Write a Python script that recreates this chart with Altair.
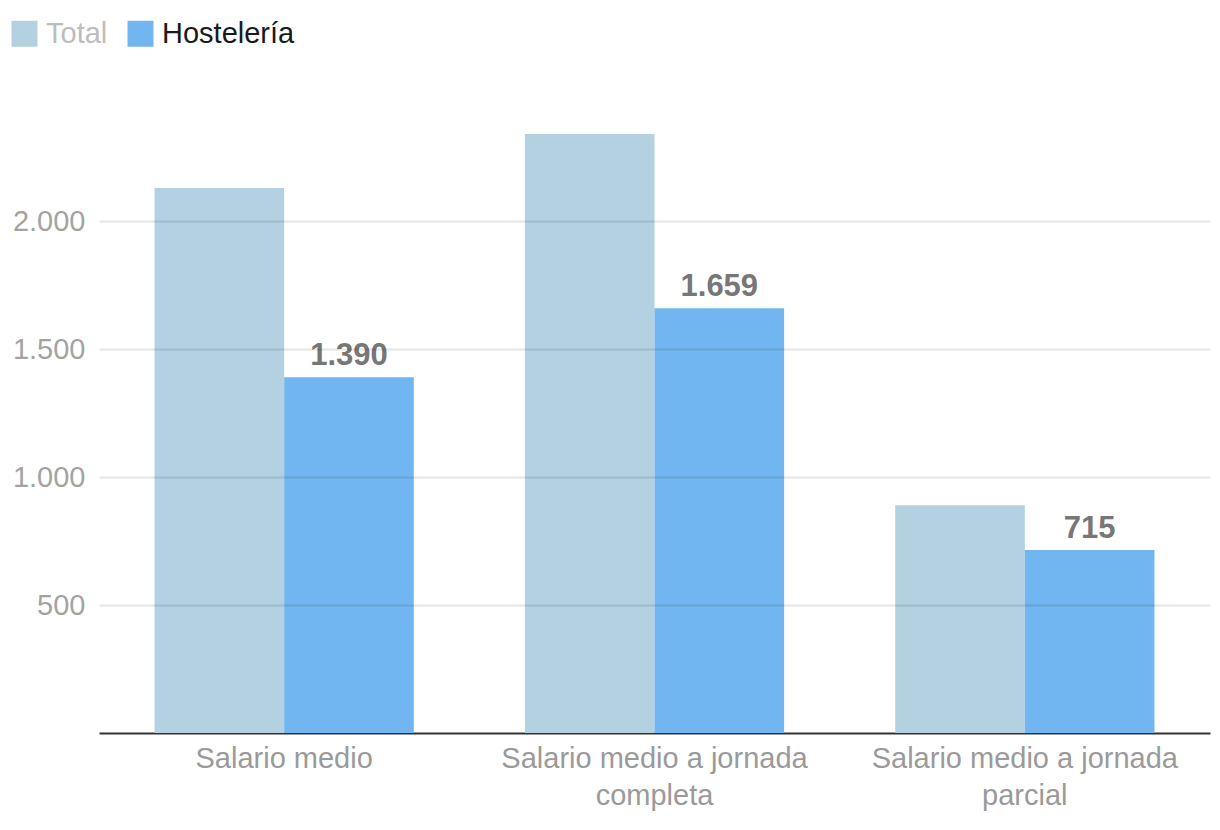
import altair as alt
import pandas as pd

categories = ["Salario medio", "Salario medio a jornada completa", "Salario medio a jornada parcial"]
series = ["Total", "Hostelería"]
total_values = [2129, 2340, 890]
hosteleria_values = [1390, 1659, 715]
colors = ["#b4d1e2", "#71b6f0"]
y_ticks = [500, 1000, 1500, 2000]

rows = []
for c, t, h in zip(categories, total_values, hosteleria_values):
    rows.append({"cat": c, "serie": "Total", "valor": t})
    rows.append({"cat": c, "serie": "Hostelería", "valor": h})
df = pd.DataFrame(rows)

FONT = "Liberation Sans"

x = alt.X("cat:N", sort=categories, title=None,
          scale=alt.Scale(paddingInner=0.3, paddingOuter=0.15),
          axis=alt.Axis(labelAngle=0, labelFontSize=29, labelColor="#9a9a9a",
                        labelFont=FONT, labelPadding=11, labelLineHeight=37, labelLimit=0,
                        ticks=False, domainColor="#333333", domainWidth=2,
                        labelExpr="datum.value == 'Salario medio' ? datum.value : [slice(datum.value, 0, 23), slice(datum.value, 24)]"))
xo = alt.XOffset("serie:N", sort=series, scale=alt.Scale(domain=series, paddingInner=0, paddingOuter=0))
y = alt.Y("valor:Q", title=None,
          scale=alt.Scale(domain=[0, 2500], nice=False, zero=True),
          axis=alt.Axis(values=y_ticks, labelExpr="replace(format(datum.value, ',d'), ',', '.')",
                        labelFontSize=29, labelColor="#a3a3a3", labelFont=FONT,
                        labelPadding=14, ticks=False, domain=False,
                        gridColor="#000000", gridOpacity=0.1, gridWidth=2, zindex=1))

bars = alt.Chart(df).mark_bar(opacity=1).encode(
    x=x, xOffset=xo, y=y,
    color=alt.Color("serie:N", sort=series,
                    scale=alt.Scale(domain=series, range=colors),
                    legend=alt.Legend(title=None, orient="none", direction="horizontal",
                                      legendX=-89, legendY=-74,
                                      symbolType="square", symbolSize=676,
                                      symbolStrokeWidth=0, symbolOpacity=1,
                                      labelFontSize=29, labelFont=FONT,
                                      labelColor=alt.ExprRef("datum.label == 'Total' ? '#bdbdbd' : '#1a1a1a'"),
                                      labelOffset=7, columnPadding=18))
)

labels = alt.Chart(df).transform_filter(alt.datum.serie == "Hostelería").mark_text(
    dy=-21, fontSize=31, fontWeight="bold", color="#777777", font=FONT
).encode(
    x=alt.X("cat:N", sort=categories),
    xOffset=xo,
    y=alt.Y("valor:Q"),
    text=alt.Text("label:N"),
).transform_calculate(label="replace(format(datum.valor, ',d'), ',', '.')")

chart = alt.layer(bars, labels).properties(
    width=1111, height=640,
    autosize=alt.AutoSizeParams(type="none"),
    padding={"left": 99, "top": 93, "right": 10, "bottom": 97},
).configure_view(stroke=None).configure_axis(grid=True).configure_axisX(grid=False)

chart.save("out.html", embed_options={"renderer": "svg", "actions": False})
